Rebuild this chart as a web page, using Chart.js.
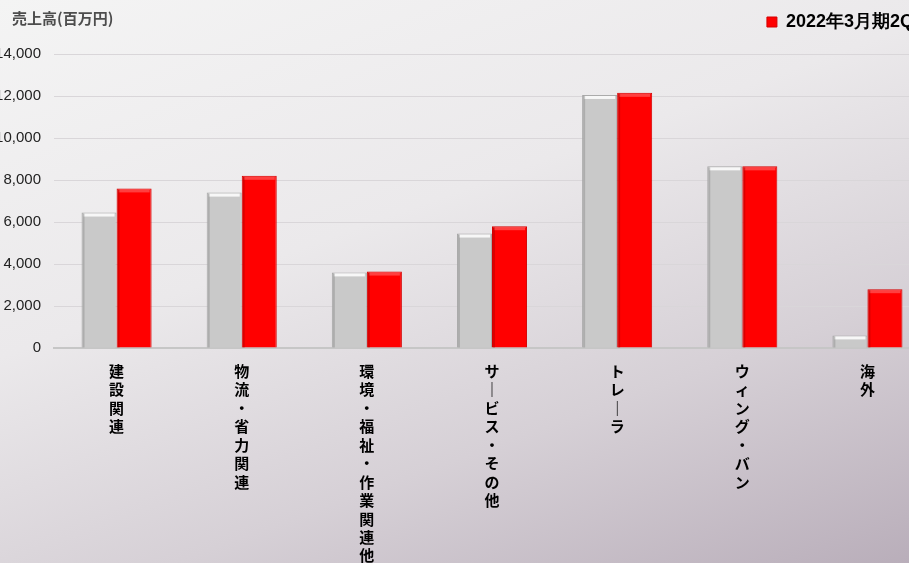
<!DOCTYPE html>
<html>
<head>
<meta charset="utf-8">
<script src="https://cdn.jsdelivr.net/npm/chart.js@4"></script>
<style>
  html, body { margin: 0; padding: 0; overflow: hidden; }
  body {
    width: 909px; height: 563px; position: relative;
    background: linear-gradient(160deg, #f4f4f4 0%, #ebe9eb 40%, #d6d0d6 70%, #b9aeba 100%);
  }
  #wrap { position: absolute; left: -20px; top: 0; width: 960px; height: 563px; }
</style>
</head>
<body>
<div id="wrap"><canvas id="salesChart"></canvas></div>
<script>
// カテゴリと売上高(百万円)
var categories = ['建設関連', '物流・省力関連', '環境・福祉・作業関連他', 'サービス・その他', 'トレーラ', 'ウィング・バン', '海外'];
var prevValues = [6450, 7400, 3600, 5450, 12050, 8650, 600];   // 2021年3月期2Q
var currValues = [7600, 8200, 3640, 5800, 12150, 8650, 2800];  // 2022年3月期2Q
var seriesNames = ['2021年3月期2Q', '2022年3月期2Q'];

var jpFont = "'Noto Sans CJK JP', sans-serif";
var numFont = "'Liberation Sans', Arial, sans-serif";

// 縦書きラベル: 1文字ずつ改行、長音は縦棒に
function verticalLabel(text) {
  return text.split('').map(function (c) { return c === 'ー' ? '｜' : c; });
}

// 左上の単位表示
var unitTitle = {
  id: 'unitTitle',
  afterDraw: function (chart) {
    var ctx = chart.ctx;
    ctx.save();
    ctx.font = 'bold 15px ' + jpFont;
    ctx.fillStyle = '#4d4d4d';
    ctx.textBaseline = 'middle';
    ctx.fillText('売上高(百万円)', 32, 18);
    ctx.restore();
  }
};

// 凡例を少し上・左へ
var legendShift = {
  id: 'legendShift',
  afterLayout: function (chart) {
    chart.legend.top -= 13;
    chart.legend.bottom -= 13;
    chart.legend.right -= 4;
  }
};

// 棒の上端に軽いハイライト
var bevel = {
  id: 'bevel',
  afterDatasetsDraw: function (chart) {
    var ctx = chart.ctx;
    chart.data.datasets.forEach(function (ds, i) {
      chart.getDatasetMeta(i).data.forEach(function (bar) {
        var w = bar.width, x = bar.x - w / 2, y = bar.y;
        ctx.save();
        ctx.fillStyle = i === 0 ? 'rgba(255,255,255,0.85)' : 'rgba(255,90,90,0.7)';
        ctx.fillRect(x + 2, y + 1, w - 4, 3);
        ctx.fillStyle = i === 0 ? 'rgba(120,120,120,0.35)' : 'rgba(150,0,0,0.35)';
        ctx.fillRect(x + 1, y + 1, 2, bar.base - y - 1);
        ctx.restore();
      });
    });
  }
};

var ctx = document.getElementById('salesChart').getContext('2d');
var chart = new Chart(ctx, {
  type: 'bar',
  data: {
    labels: categories,
    datasets: [{
      label: seriesNames[0],
      data: prevValues,
      backgroundColor: '#c9c9c9',
      borderColor: '#a8a8a8',
      borderWidth: 1,
      categoryPercentage: 0.56,
      barPercentage: 1.0
    }, {
      label: seriesNames[1],
      data: currValues,
      backgroundColor: '#ff0000',
      borderColor: '#d40000',
      borderWidth: 1,
      categoryPercentage: 0.56,
      barPercentage: 1.0
    }]
  },
  options: {
    responsive: true,
    maintainAspectRatio: false,
    animation: false,
    layout: { padding: { top: 14, right: 10, left: 0, bottom: 0 } },
    plugins: {
      tooltip: { enabled: false },
      legend: {
        position: 'top',
        align: 'end',
        labels: {
          filter: function (item) { return item.datasetIndex === 1; },
          boxWidth: 10,
          boxHeight: 10,
          color: '#000000',
          padding: 12,
          font: { size: 18, weight: 'bold', family: numFont }
        }
      }
    },
    scales: {
      x: {
        grid: { display: false, drawTicks: false },
        border: { color: '#c6c6c6', width: 2 },
        afterFit: function (s) { s.height = 215; },
        ticks: {
          autoSkip: false,
          maxRotation: 0,
          minRotation: 0,
          padding: 14,
          color: '#000000',
          font: { size: 15, weight: 'bold', family: jpFont, lineHeight: 1.23 },
          callback: function (v) { return verticalLabel(categories[v]); }
        }
      },
      y: {
        min: 0,
        max: 14000,
        afterFit: function (s) { s.width = 74; },
        border: { display: false },
        grid: { color: '#d9d6d9', drawTicks: false },
        ticks: {
          stepSize: 2000,
          padding: 13,
          color: '#222222',
          font: { size: 15, family: numFont },
          callback: function (v) { return v.toLocaleString('en-US'); }
        }
      }
    }
  },
  plugins: [unitTitle, legendShift, bevel]
});
</script>
</body>
</html>
